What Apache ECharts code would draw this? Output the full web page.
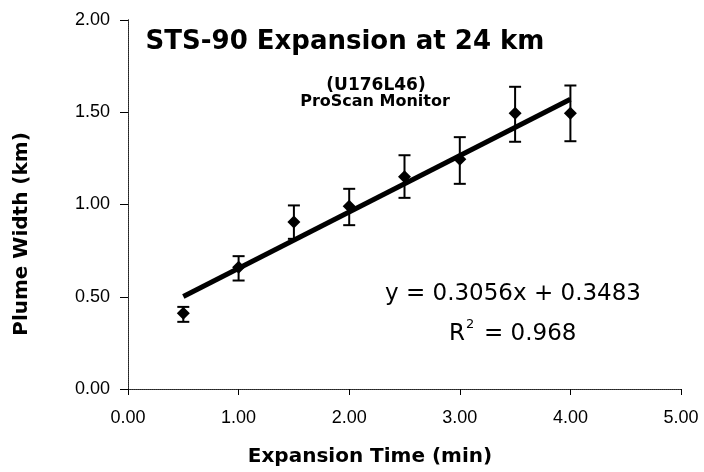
<!DOCTYPE html>
<html>
<head>
<meta charset="utf-8">
<script src="https://cdn.jsdelivr.net/npm/echarts@6/dist/echarts.min.js"></script>
<style>
	html, body { margin: 0; padding: 0; background: #fff; }
	#chart { width: 704px; height: 472px; }
</style>
</head>
<body>
<div id="chart"></div>
<script type="text/javascript">
	// expansion time (min) and measured plume width (km)
	var timeMin = [0.5, 1.0, 1.5, 2.0, 2.5, 3.0, 3.5, 4.0];
	var widthKm = [0.41, 0.66, 0.905, 0.99, 1.15, 1.245, 1.495, 1.495];
	var errLow  = [0.364, 0.588, 0.814, 0.888, 1.036, 1.112, 1.34, 1.343];
	var errHigh = [0.445, 0.72, 0.995, 1.085, 1.267, 1.365, 1.638, 1.645];
	// linear fit line, end points
	var fitX = [0.5, 4.0];
	var fitY = [0.501, 1.571];

	var chart = echarts.init(document.getElementById('chart'));

	var points = timeMin.map(function (t, i) { return [t, widthKm[i]]; });
	var bars = timeMin.map(function (t, i) { return [t, errLow[i], errHigh[i]]; });
	var fit = fitX.map(function (t, i) { return [t, fitY[i]]; });

	var tickFont = { color: '#000', fontFamily: 'Liberation Sans', fontSize: 18 };
	var dotted = { color: '#222', width: 1, type: 'dotted' };

	var option = {
		backgroundColor: '#fff',
		animation: false,
		grid: { left: 128, right: 23, top: 20, bottom: 83 },
		xAxis: [
			{
				type: 'value', min: 0, max: 5, interval: 1,
				axisLine: { lineStyle: dotted },
				axisTick: { length: 6, lineStyle: { color: '#000' } },
				axisLabel: Object.assign({ margin: 20, formatter: function (v) { return v.toFixed(2); } }, tickFont),
				splitLine: { show: false }
			},
			{
				type: 'value', min: 0, max: 5, position: 'top',
				axisLine: { lineStyle: dotted },
				axisTick: { show: false }, axisLabel: { show: false }, splitLine: { show: false }
			}
		],
		yAxis: [
			{
				type: 'value', min: 0, max: 2, interval: 0.5,
				axisLine: { lineStyle: dotted },
				axisTick: { length: 8, lineStyle: { color: '#000' } },
				axisLabel: Object.assign({ margin: 18, formatter: function (v) { return v.toFixed(2); } }, tickFont),
				splitLine: { show: false }
			},
			{
				type: 'value', min: 0, max: 2, position: 'right',
				axisLine: { lineStyle: dotted },
				axisTick: { show: false }, axisLabel: { show: false }, splitLine: { show: false }
			}
		],
		series: [
			{
				type: 'line',
				data: fit,
				symbol: 'none',
				lineStyle: { color: '#000', width: 5 },
				z: 2
			},
			{
				type: 'custom',
				data: bars,
				z: 3,
				renderItem: function (params, api) {
					var top = api.coord([api.value(0), api.value(2)]);
					var bot = api.coord([api.value(0), api.value(1)]);
					var w = 6;
					var st = { stroke: '#000', lineWidth: 2 };
					return {
						type: 'group',
						children: [
							{ type: 'line', shape: { x1: top[0], y1: top[1], x2: bot[0], y2: bot[1] }, style: st },
							{ type: 'line', shape: { x1: top[0] - w, y1: top[1], x2: top[0] + w, y2: top[1] }, style: st },
							{ type: 'line', shape: { x1: bot[0] - w, y1: bot[1], x2: bot[0] + w, y2: bot[1] }, style: st }
						]
					};
				}
			},
			{
				type: 'scatter',
				data: points,
				symbol: 'diamond',
				symbolSize: 13,
				itemStyle: { color: '#000', opacity: 1 },
				z: 4
			}
		],
		graphic: [
			{ type: 'text', x: 345, y: 42, style: { text: 'STS-90 Expansion at 24 km', font: 'bold 26px "DejaVu Sans"', fill: '#000', textAlign: 'center', textVerticalAlign: 'middle' } },
			{ type: 'text', x: 376, y: 86, style: { text: '(U176L46)', font: 'bold 17px "DejaVu Sans"', fill: '#000', textAlign: 'center', textVerticalAlign: 'middle' } },
			{ type: 'text', x: 375, y: 102, style: { text: 'ProScan Monitor', font: 'bold 16px "DejaVu Sans"', fill: '#000', textAlign: 'center', textVerticalAlign: 'middle' } },
			{ type: 'text', x: 513, y: 294, style: { text: 'y = 0.3056x + 0.3483', font: '23px "DejaVu Sans"', fill: '#000', textAlign: 'center', textVerticalAlign: 'middle' } },
			{ type: 'text', x: 449, y: 334, style: { text: 'R', font: '23px "DejaVu Sans"', fill: '#000', textAlign: 'left', textVerticalAlign: 'middle' } },
			{ type: 'text', x: 466, y: 325, style: { text: '2', font: '13px "DejaVu Sans"', fill: '#000', textAlign: 'left', textVerticalAlign: 'middle' } },
			{ type: 'text', x: 484, y: 334, style: { text: '= 0.968', font: '23px "DejaVu Sans"', fill: '#000', textAlign: 'left', textVerticalAlign: 'middle' } },
			{ type: 'text', x: 370, y: 457, style: { text: 'Expansion Time (min)', font: 'bold 20px "DejaVu Sans"', fill: '#000', textAlign: 'center', textVerticalAlign: 'middle' } },
			{ type: 'text', x: 22, y: 234, rotation: Math.PI / 2, style: { text: 'Plume Width (km)', font: 'bold 20px "DejaVu Sans"', fill: '#000', textAlign: 'center', textVerticalAlign: 'middle' } }
		]
	};
	chart.setOption(option);
	window.onresize = function () {
		chart.resize();
	};
</script>
</body>
</html>
